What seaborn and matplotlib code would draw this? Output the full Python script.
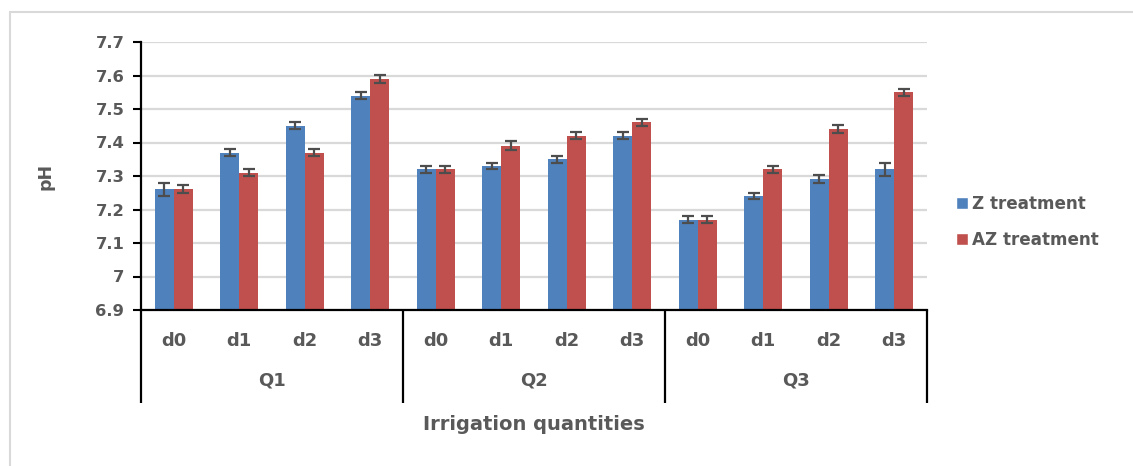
import numpy as np
import pandas as pd
import matplotlib
matplotlib.use("Agg")
import matplotlib.pyplot as plt
from matplotlib.patches import Patch
from matplotlib.lines import Line2D
from matplotlib.transforms import blended_transform_factory
import seaborn as sns

# Data
groups = ["Q1", "Q2", "Q3"]
levels = ["d0", "d1", "d2", "d3"]
treatments = ["Z treatment", "AZ treatment"]
z_ph = [7.26, 7.37, 7.45, 7.54, 7.32, 7.33, 7.35, 7.42, 7.17, 7.24, 7.29, 7.32]
az_ph = [7.26, 7.31, 7.37, 7.59, 7.32, 7.39, 7.42, 7.46, 7.17, 7.32, 7.44, 7.55]
z_err = [0.020, 0.010, 0.010, 0.011, 0.010, 0.010, 0.010, 0.010, 0.010, 0.010, 0.012, 0.020]
az_err = [0.012, 0.010, 0.010, 0.011, 0.010, 0.013, 0.010, 0.010, 0.010, 0.010, 0.012, 0.010]
y_ticks = [6.9, 7.0, 7.1, 7.2, 7.3, 7.4, 7.5, 7.6, 7.7]
y_tick_labels = ["6.9", "7", "7.1", "7.2", "7.3", "7.4", "7.5", "7.6", "7.7"]

keys = [f"{g}-{l}" for g in groups for l in levels]
df = pd.DataFrame({
    "key": keys * 2,
    "pH": z_ph + az_ph,
    "err": z_err + az_err,
    "treatment": [treatments[0]] * len(keys) + [treatments[1]] * len(keys),
})

BLUE = "#4F81BD"
RED = "#C0504D"
TXT = "#595959"
GRID = "#D9D9D9"

sns.set_theme(style="white")
plt.rcParams["font.family"] = ["DejaVu Sans"]
plt.rcParams["font.weight"] = "bold"

fig = plt.figure(figsize=(11.33, 4.66), dpi=100)
ax = fig.add_axes([141 / 1133, 1 - 310 / 466, (927 - 141) / 1133, (310 - 42) / 466])

sns.barplot(data=df, x="key", y="pH", hue="treatment", order=keys,
            hue_order=treatments, palette=[BLUE, RED], width=0.58,
            errorbar=None, saturation=1, legend=False, ax=ax, zorder=2,
            linewidth=0)

# error bars at bar centres
for cont, t in zip(ax.containers, treatments):
    sub = df[df["treatment"] == t].set_index("key").loc[keys]
    xs = [b.get_x() + b.get_width() / 2 for b in cont]
    ax.errorbar(xs, sub["pH"].values, yerr=sub["err"].values, fmt="none",
                ecolor="#4D4D4D", elinewidth=1.6, capsize=4.5, capthick=1.6,
                zorder=3)

ax.set_ylim(6.9, 7.7)
ax.set_xlim(-0.5, len(keys) - 0.5)
ax.set_yticks(y_ticks)
ax.set_yticklabels(y_tick_labels, color=TXT, fontsize=11.8, fontweight="bold")
ax.yaxis.grid(True, color=GRID, linewidth=1.6, zorder=0)
ax.set_axisbelow(True)
ax.tick_params(axis="y", direction="out", length=6, width=1.5, color="black",
               left=True, pad=6)
ax.tick_params(axis="x", length=0, pad=16)
ax.set_xticks(range(len(keys)))
ax.set_xticklabels(levels * len(groups), color=TXT, fontsize=13, fontweight="bold")
ax.set_xlabel("")
ax.set_ylabel("")
for s in ["top", "right"]:
    ax.spines[s].set_visible(False)
ax.spines["left"].set_color("black")
ax.spines["left"].set_linewidth(1.6)
ax.spines["bottom"].set_color("black")
ax.spines["bottom"].set_linewidth(1.6)

# group separators and group labels below the axis
tr = blended_transform_factory(ax.transData, ax.transAxes)
sep_bottom = (310 - 403) / 268
for b in np.arange(-0.5, len(keys), len(levels)):
    ax.plot([b, b], [0, sep_bottom], color="black", lw=1.6, transform=tr,
            clip_on=False, solid_capstyle="butt")
for i, g in enumerate(groups):
    cx = i * len(levels) + (len(levels) - 1) / 2
    ax.text(cx, (310 - 381) / 268, g, transform=tr, ha="center", va="center",
            color=TXT, fontsize=13, fontweight="bold")

fig.text((141 + 927) / 2 / 1133, 1 - 425 / 466, "Irrigation quantities",
         ha="center", va="center", color=TXT, fontsize=14, fontweight="bold")
fig.text(45 / 1133, 1 - 176 / 466, "pH", rotation=90, ha="center", va="center",
         color=TXT, fontsize=12.5, fontweight="bold")

handles = [Patch(facecolor=BLUE), Patch(facecolor=RED)]
leg = fig.legend(handles, treatments, loc="center left",
                 bbox_to_anchor=(956 / 1133, 1 - 222 / 466), frameon=False,
                 handlelength=0.72, handleheight=0.72, handletextpad=0.25,
                 labelspacing=1.1, fontsize=12.1, borderaxespad=0,
                 borderpad=0)
for t in leg.get_texts():
    t.set_color(TXT)
    t.set_fontweight("bold")

# chart area border (top and left edges)
fig.add_artist(Line2D([10 / 1133, 1.0], [1 - 12 / 466] * 2, color=GRID,
                      lw=1.5, transform=fig.transFigure))
fig.add_artist(Line2D([10 / 1133] * 2, [0.0, 1 - 12 / 466], color=GRID,
                      lw=1.5, transform=fig.transFigure))

fig.savefig("out.png", dpi=100, facecolor="white")
